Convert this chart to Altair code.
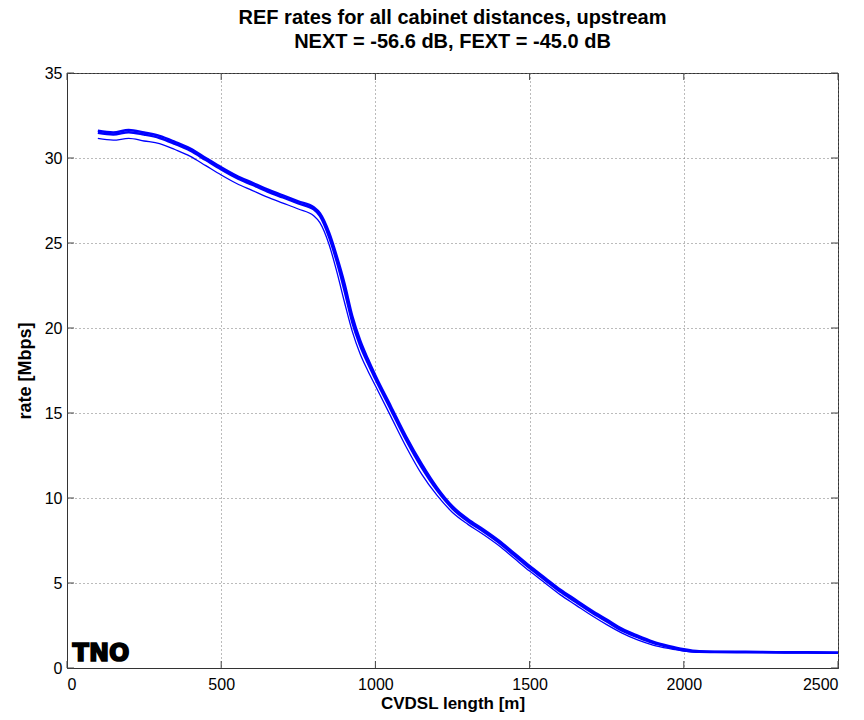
import altair as alt
import pandas as pd

# cabinet-distance curves (CVDSL length [m] -> rate [Mbps])
dist = [100, 150, 200, 250, 300, 350, 400, 450, 500, 550, 600, 650, 700, 750, 800, 820,
        850, 875, 900, 925, 950, 975, 1000, 1050, 1100, 1150, 1200, 1250, 1300, 1350,
        1400, 1450, 1500, 1550, 1600, 1650, 1700, 1750, 1800, 1850, 1900, 1950, 2000,
        2050, 2100, 2200, 2300, 2400, 2500]

rate_a = [31.6, 31.5, 31.65, 31.5, 31.3, 30.95, 30.55, 30.0, 29.45, 28.95, 28.55, 28.15,
          27.8, 27.45, 27.1, 26.75, 25.6, 24.2, 22.6, 20.7, 19.3, 18.2, 17.2, 15.4, 13.6,
          12.0, 10.6, 9.5, 8.75, 8.15, 7.5, 6.75, 6.0, 5.3, 4.6, 4.0, 3.4, 2.85, 2.3, 1.9,
          1.55, 1.3, 1.1, 0.98, 0.96, 0.95, 0.93, 0.92, 0.9]

rate_b = [31.48, 31.38, 31.52, 31.38, 31.18, 30.83, 30.43, 29.88, 29.33, 28.83, 28.43,
          28.03, 27.68, 27.33, 26.98, 26.6, 25.35, 23.9, 22.2, 20.35, 19.0, 17.95, 17.0,
          15.2, 13.4, 11.8, 10.45, 9.38, 8.63, 8.03, 7.38, 6.63, 5.88, 5.18, 4.48, 3.88,
          3.28, 2.74, 2.2, 1.82, 1.48, 1.24, 1.05, 0.95, 0.94, 0.93, 0.92, 0.91, 0.89]

rate_c = [31.15, 31.05, 31.15, 31.0, 30.85, 30.5, 30.1, 29.55, 29.0, 28.5, 28.1, 27.7,
          27.35, 27.0, 26.6, 26.2, 24.9, 23.3, 21.5, 19.8, 18.5, 17.5, 16.6, 14.8, 13.0,
          11.4, 10.15, 9.15, 8.45, 7.85, 7.2, 6.45, 5.7, 5.0, 4.3, 3.7, 3.1, 2.55, 2.05,
          1.65, 1.35, 1.15, 1.0, 0.94, 0.93, 0.92, 0.91, 0.9, 0.89]

series_names = ["cab A", "cab B", "cab C"]
series_widths = [2.5, 2.5, 1.3]

rows = []
for name, vals, w in zip(series_names, [rate_a, rate_b, rate_c], series_widths):
    for d, v in zip(dist, vals):
        rows.append({"dist": d, "rate": v, "series": name, "w": w})
df = pd.DataFrame(rows)

x_ticks = [0, 500, 1000, 1500, 2000, 2500]
y_ticks = [0, 5, 10, 15, 20, 25, 30, 35]

W, H = 771, 595
TICK_COLOR = "#444444"

xs = alt.Scale(domain=[0, 2500], nice=False)
ys = alt.Scale(domain=[0, 35], nice=False)

lines = alt.Chart(df).mark_line(color="#0000FF", interpolate="monotone").encode(
    x=alt.X("dist:Q", scale=xs,
            axis=alt.Axis(values=x_ticks, title="CVDSL length [m]", format="d")),
    y=alt.Y("rate:Q", scale=ys,
            axis=alt.Axis(values=y_ticks, title="rate [Mbps]", format="d",
                          titleFontSize=18)),
    detail="series:N",
    strokeWidth=alt.StrokeWidth("w:Q", scale=None, legend=None),
)

ydf = pd.DataFrame({"v": y_ticks})
xdf = pd.DataFrame({"v": x_ticks})

ytick_left = alt.Chart(ydf).mark_rule(color=TICK_COLOR, strokeWidth=1).encode(
    y=alt.Y("v:Q", scale=ys), x=alt.value(0), x2=alt.value(7))
ytick_right = alt.Chart(ydf).mark_rule(color=TICK_COLOR, strokeWidth=1).encode(
    y=alt.Y("v:Q", scale=ys), x=alt.value(W - 7), x2=alt.value(W))
xtick_bottom = alt.Chart(xdf).mark_rule(color=TICK_COLOR, strokeWidth=1).encode(
    x=alt.X("v:Q", scale=xs), y=alt.value(H - 7), y2=alt.value(H))
xtick_top = alt.Chart(xdf).mark_rule(color=TICK_COLOR, strokeWidth=1).encode(
    x=alt.X("v:Q", scale=xs), y=alt.value(0), y2=alt.value(7))

logo = alt.Chart(pd.DataFrame({"t": ["TNO"]})).mark_text(
    font="DejaVu Sans", fontSize=24, fontWeight=900, color="black",
    stroke="black", strokeWidth=1.6, align="center", baseline="bottom"
).encode(text="t:N", x=alt.value(34), y=alt.value(593))

chart = alt.layer(lines, ytick_left, ytick_right, xtick_bottom, xtick_top, logo).properties(
    width=W, height=H,
    title=alt.Title(["REF rates for all cabinet distances, upstream",
                     "NEXT = -56.6 dB, FEXT = -45.0 dB"],
                    fontSize=20, fontWeight="bold", font="Liberation Sans",
                    color="black", anchor="middle", offset=13, lineHeight=24),
    autosize=alt.AutoSizeParams(type="none"),
    padding={"left": 67, "top": 73, "right": 26, "bottom": 52},
).configure_view(
    stroke="#333333", strokeWidth=1
).configure_axis(
    labelFont="Liberation Sans", labelFontSize=16, labelColor="black",
    titleFont="Liberation Sans", titleFontSize=17, titleFontWeight="bold", titleColor="black",
    domainColor="#333333", tickSize=0, grid=True, gridColor="#777777",
    gridDash=[1, 3], gridOpacity=1, gridWidth=1
).configure_axisX(
    labelPadding=8, titlePadding=3
).configure_axisY(
    labelPadding=5, titlePadding=10
)

chart.save("out.html", embed_options={"renderer": "svg", "actions": False})
